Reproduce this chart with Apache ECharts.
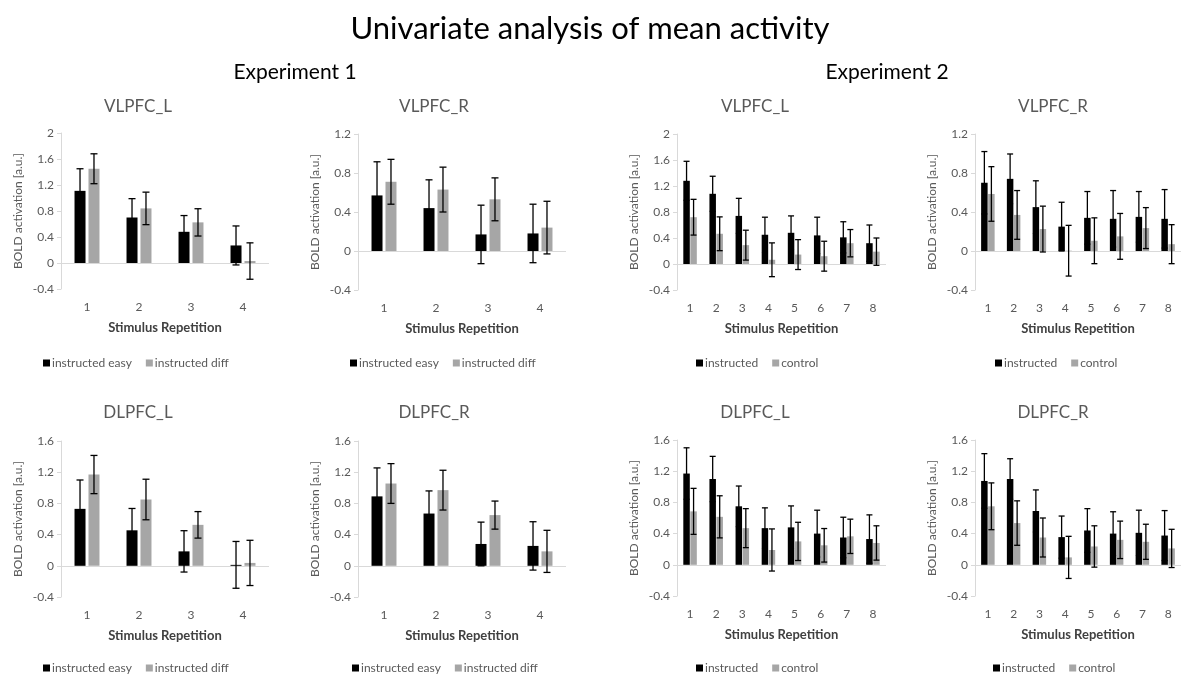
<!DOCTYPE html>
<html><head><meta charset="utf-8">
<script src="https://cdn.jsdelivr.net/npm/echarts@6/dist/echarts.min.js"></script>
<style>html,body{margin:0;padding:0;background:#fff}#c{width:1181px;height:675px}</style>
</head><body><div id="c"></div>
<script>
// ---------- data ----------
const catsExp1 = ['1', '2', '3', '4'];
const catsExp2 = ['1', '2', '3', '4', '5', '6', '7', '8'];
const yTicksTop1 = [-0.4, 2, 0.4];      // min, max, interval
const yTicksR = [-0.4, 1.2, 0.4];
const yTicksBot = [-0.4, 1.6, 0.4];

// Experiment 1, VLPFC_L
const e1VLL_easy = [1.11, 0.70, 0.48, 0.27];
const e1VLL_easyErr = [0.34, 0.29, 0.25, 0.30];
const e1VLL_diff = [1.45, 0.84, 0.625, 0.03];
const e1VLL_diffErr = [0.23, 0.25, 0.21, 0.28];
// Experiment 1, VLPFC_R
const e1VLR_easy = [0.57, 0.44, 0.17, 0.18];
const e1VLR_easyErr = [0.345, 0.29, 0.30, 0.30];
const e1VLR_diff = [0.71, 0.63, 0.53, 0.24];
const e1VLR_diffErr = [0.23, 0.23, 0.22, 0.27];
// Experiment 1, DLPFC_L
const e1DLL_easy = [0.73, 0.455, 0.185, 0.012];
const e1DLL_easyErr = [0.37, 0.28, 0.265, 0.30];
const e1DLL_diff = [1.17, 0.85, 0.525, 0.037];
const e1DLL_diffErr = [0.245, 0.26, 0.17, 0.29];
// Experiment 1, DLPFC_R
const e1DLR_easy = [0.89, 0.67, 0.28, 0.255];
const e1DLR_easyErr = [0.365, 0.29, 0.28, 0.31];
const e1DLR_diff = [1.055, 0.97, 0.65, 0.185];
const e1DLR_diffErr = [0.255, 0.255, 0.18, 0.27];
// Experiment 2, VLPFC_L
const e2VLL_instr = [1.28, 1.08, 0.74, 0.45, 0.48, 0.44, 0.41, 0.32];
const e2VLL_instrErr = [0.30, 0.27, 0.27, 0.27, 0.26, 0.28, 0.24, 0.28];
const e2VLL_ctrl = [0.72, 0.465, 0.29, 0.065, 0.145, 0.12, 0.32, 0.19];
const e2VLL_ctrlErr = [0.275, 0.26, 0.23, 0.26, 0.23, 0.23, 0.21, 0.21];
// Experiment 2, VLPFC_R
const e2VLR_instr = [0.70, 0.74, 0.45, 0.25, 0.34, 0.33, 0.35, 0.33];
const e2VLR_instrErr = [0.32, 0.255, 0.27, 0.25, 0.27, 0.29, 0.26, 0.30];
const e2VLR_ctrl = [0.585, 0.37, 0.225, 0.003, 0.105, 0.15, 0.235, 0.07];
const e2VLR_ctrlErr = [0.28, 0.25, 0.235, 0.26, 0.235, 0.235, 0.21, 0.20];
// Experiment 2, DLPFC_L
const e2DLL_instr = [1.17, 1.10, 0.75, 0.47, 0.48, 0.40, 0.35, 0.33];
const e2DLL_instrErr = [0.33, 0.29, 0.26, 0.26, 0.275, 0.30, 0.26, 0.31];
const e2DLL_ctrl = [0.685, 0.615, 0.47, 0.19, 0.30, 0.25, 0.365, 0.28];
const e2DLL_ctrlErr = [0.295, 0.27, 0.25, 0.27, 0.245, 0.215, 0.22, 0.22];
// Experiment 2, DLPFC_R
const e2DLR_instr = [1.075, 1.10, 0.69, 0.355, 0.44, 0.40, 0.41, 0.375];
const e2DLR_instrErr = [0.35, 0.26, 0.27, 0.27, 0.28, 0.28, 0.29, 0.32];
const e2DLR_ctrl = [0.75, 0.535, 0.35, 0.095, 0.235, 0.32, 0.295, 0.21];
const e2DLR_ctrlErr = [0.30, 0.285, 0.25, 0.27, 0.265, 0.24, 0.225, 0.245];

const namesExp1 = ['instructed easy', 'instructed diff'];
const namesExp2 = ['instructed', 'control'];

// ---------- layout ----------
const FONT = 'Lato';
const TXT = '#595959';
const panels = [
  {title:'VLPFC_L', tx:138, ty:107, grid:{left:61, top:133, width:208, height:156}, ticks:yTicksTop1, cats:catsExp1, names:namesExp1,
   a:e1VLL_easy, ae:e1VLL_easyErr, b:e1VLL_diff, be:e1VLL_diffErr, legend:{left:43, top:357}, exp:1},
  {title:'VLPFC_R', tx:434, ty:107, grid:{left:358, top:134, width:208, height:156}, ticks:yTicksR, cats:catsExp1, names:namesExp1,
   a:e1VLR_easy, ae:e1VLR_easyErr, b:e1VLR_diff, be:e1VLR_diffErr, legend:{left:350, top:357}, exp:1},
  {title:'VLPFC_L', tx:755, ty:107, grid:{left:677, top:134, width:209, height:156}, ticks:yTicksTop1, cats:catsExp2, names:namesExp2,
   a:e2VLL_instr, ae:e2VLL_instrErr, b:e2VLL_ctrl, be:e2VLL_ctrlErr, legend:{left:696, top:357}, exp:2},
  {title:'VLPFC_R', tx:1053, ty:107, grid:{left:975, top:134, width:210, height:156}, ticks:yTicksR, cats:catsExp2, names:namesExp2,
   a:e2VLR_instr, ae:e2VLR_instrErr, b:e2VLR_ctrl, be:e2VLR_ctrlErr, legend:{left:995, top:357}, exp:2},
  {title:'DLPFC_L', tx:138, ty:413, grid:{left:61, top:441, width:208, height:156}, ticks:yTicksBot, cats:catsExp1, names:namesExp1,
   a:e1DLL_easy, ae:e1DLL_easyErr, b:e1DLL_diff, be:e1DLL_diffErr, legend:{left:43, top:662}, exp:1},
  {title:'DLPFC_R', tx:434, ty:413, grid:{left:358, top:441, width:208, height:156}, ticks:yTicksBot, cats:catsExp1, names:namesExp1,
   a:e1DLR_easy, ae:e1DLR_easyErr, b:e1DLR_diff, be:e1DLR_diffErr, legend:{left:352, top:662}, exp:1},
  {title:'DLPFC_L', tx:755, ty:413, grid:{left:677, top:440, width:209, height:156}, ticks:yTicksBot, cats:catsExp2, names:namesExp2,
   a:e2DLL_instr, ae:e2DLL_instrErr, b:e2DLL_ctrl, be:e2DLL_ctrlErr, legend:{left:696, top:662}, exp:2},
  {title:'DLPFC_R', tx:1053, ty:413, grid:{left:975, top:440, width:210, height:156}, ticks:yTicksBot, cats:catsExp2, names:namesExp2,
   a:e2DLR_instr, ae:e2DLR_instrErr, b:e2DLR_ctrl, be:e2DLR_ctrlErr, legend:{left:993, top:662}, exp:2}
];

function errRender(offsetPx, capW) {
  return function (params, api) {
    const i = api.value(0);
    const x = api.coord([i, 0])[0] + offsetPx;
    const lo = api.coord([i, api.value(1)])[1];
    const hi = api.coord([i, api.value(2)])[1];
    const style = {stroke: '#000', lineWidth: 1.3};
    return {type: 'group', children: [
      {type: 'line', shape: {x1: x, y1: lo, x2: x, y2: hi}, style: style},
      {type: 'line', shape: {x1: x - capW / 2, y1: hi, x2: x + capW / 2, y2: hi}, style: style},
      {type: 'line', shape: {x1: x - capW / 2, y1: lo, x2: x + capW / 2, y2: lo}, style: style}
    ]};
  };
}

const grids = [], xAxes = [], yAxes = [], series = [], legends = [];
const graphics = [
  {type:'text', x:590, y:29, style:{text:'Univariate analysis of mean activity', font:'31px ' + FONT, fill:'#000', textAlign:'center', textVerticalAlign:'middle'}},
  {type:'text', x:295, y:72, style:{text:'Experiment 1', font:'21px ' + FONT, fill:'#000', textAlign:'center', textVerticalAlign:'middle'}},
  {type:'text', x:887, y:72, style:{text:'Experiment 2', font:'21px ' + FONT, fill:'#000', textAlign:'center', textVerticalAlign:'middle'}}
];

panels.forEach(function (p, k) {
  grids.push(Object.assign({containLabel: false}, p.grid));
  graphics.push({type:'text', x:p.tx, y:p.ty, style:{text:p.title, font:'17px ' + FONT, fill:TXT, textAlign:'center', textVerticalAlign:'middle'}});
  xAxes.push({
    type: 'category', gridIndex: k, data: p.cats,
    axisLine: {show: false}, axisTick: {show: false},
    axisLabel: {color: TXT, fontSize: 12, fontFamily: FONT, margin: 12},
    name: 'Stimulus Repetition', nameLocation: 'middle', nameGap: 32,
    nameTextStyle: {color: '#404040', fontSize: 13, fontWeight: 'bold', fontFamily: FONT}
  });
  yAxes.push({
    type: 'value', gridIndex: k, min: p.ticks[0], max: p.ticks[1], interval: p.ticks[2],
    axisLine: {show: true, lineStyle: {color: '#d9d9d9', width: 1}},
    axisTick: {show: true, length: 4, lineStyle: {color: '#d9d9d9'}},
    splitLine: {show: false},
    axisLabel: {color: TXT, fontSize: 12, fontFamily: FONT, margin: 7},
    name: 'BOLD activation [a.u.]', nameLocation: 'middle', nameGap: 37,
    nameTextStyle: {color: TXT, fontSize: 12, fontFamily: FONT}
  });
  const w = p.exp === 1 ? 11 : 6.5;
  const gapPct = p.exp === 1 ? 27 : 8;
  const off = (w + w * gapPct / 100) / 2;
  const cap = p.exp === 1 ? 7 : 6;
  series.push({
    type: 'bar', name: p.names[0], xAxisIndex: k, yAxisIndex: k, data: p.a,
    barWidth: w, barGap: gapPct + '%', itemStyle: {color: '#000000'}, silent: true,
    markLine: {silent: true, symbol: ['none', 'none'], label: {show: false},
      lineStyle: {color: '#d9d9d9', type: 'solid', width: 1}, data: [{yAxis: 0}], animation: false}
  });
  series.push({
    type: 'bar', name: p.names[1], xAxisIndex: k, yAxisIndex: k, data: p.b,
    barWidth: w, barGap: gapPct + '%', itemStyle: {color: '#a6a6a6'}, silent: true
  });
  series.push({
    type: 'custom', xAxisIndex: k, yAxisIndex: k, z: 5, silent: true,
    renderItem: errRender(-off, cap), encode: {x: 0, y: [1, 2]},
    data: p.a.map(function (v, i) { return [i, v - p.ae[i], v + p.ae[i]]; })
  });
  series.push({
    type: 'custom', xAxisIndex: k, yAxisIndex: k, z: 5, silent: true,
    renderItem: errRender(off, cap), encode: {x: 0, y: [1, 2]},
    data: p.b.map(function (v, i) { return [i, v - p.be[i], v + p.be[i]]; })
  });
  legends.push({
    data: p.names, left: p.legend.left, top: p.legend.top, orient: 'horizontal',
    icon: 'rect', itemWidth: 7, itemHeight: 7, itemGap: 14, padding: 0,
    textStyle: {color: TXT, fontSize: 12, fontFamily: FONT, padding: [0, 0, 0, -3]},
    selectedMode: false
  });
});

const chart = echarts.init(document.getElementById('c'), null, {renderer: 'canvas'});
chart.setOption({
  backgroundColor: '#ffffff',
  animation: false,
  textStyle: {fontFamily: FONT},
  grid: grids, xAxis: xAxes, yAxis: yAxes, series: series, legend: legends, graphic: graphics
});
</script></body></html>
